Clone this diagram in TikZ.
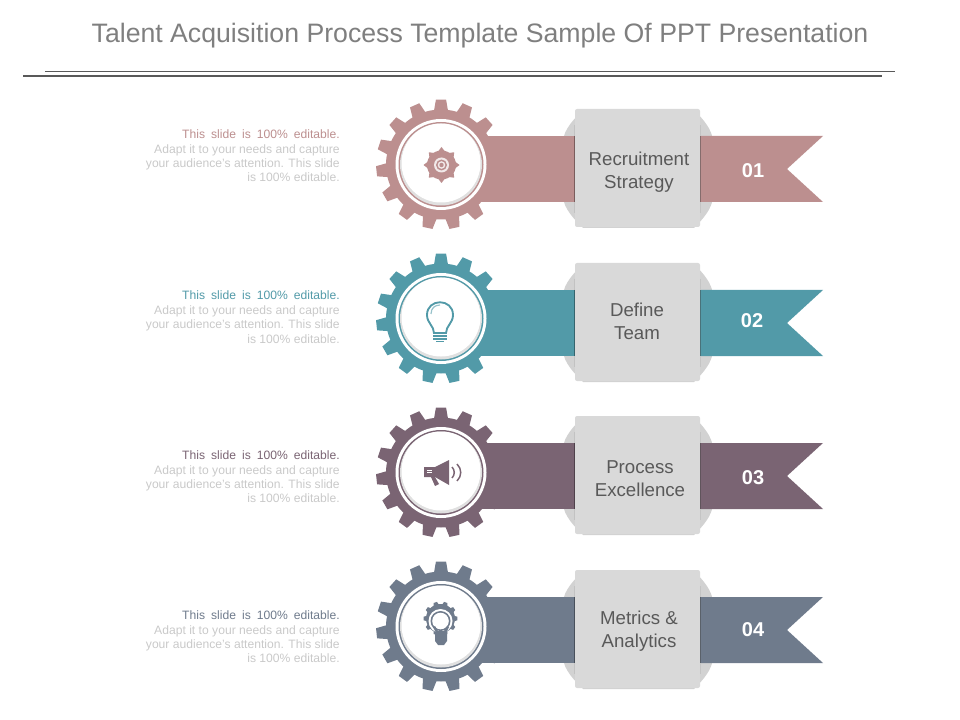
\documentclass[tikz,border=0pt]{standalone}
\usepackage{fontspec}
\setmainfont{Liberation Sans}
\definecolor{rosecol}{HTML}{BC8F8F}
\definecolor{tealcol}{HTML}{529AA8}
\definecolor{plumcol}{HTML}{7A6473}
\definecolor{slatecol}{HTML}{6F7B8C}
\definecolor{titlecol}{HTML}{7F7F7F}
\definecolor{rulecol}{HTML}{595959}
\definecolor{notecol}{HTML}{C9C9C9}
\definecolor{boxcol}{HTML}{D9D9D9}
\definecolor{backcol}{HTML}{D2D2D2}
\definecolor{labelcol}{HTML}{595959}
\newcommand{\wideskip}{\spaceskip=4.5pt\relax}
\tikzset{
    titletext/.style={text=titlecol, font=\fontsize{20pt}{24pt}\selectfont, inner sep=0},
    notetext/.style={anchor=base east, text=notecol, font=\fontsize{9.1pt}{11pt}\selectfont, inner sep=0},
    notehead/.style={anchor=base east, font=\fontsize{9.1pt}{11pt}\selectfont\wideskip, inner sep=0},
    boxtext/.style={anchor=base, text=labelcol, font=\fontsize{14pt}{16pt}\selectfont, inner sep=0},
    numtext/.style={text=white, font=\fontsize{15pt}{18pt}\selectfont\bfseries, inner sep=0},
}
\newcommand{\gearwheel}[2]{
    \begin{scope}[shift={(441,#1)}]
        \fill[#2] (0, 0) circle [radius=55];
        \foreach \a in {270,294,...,606}
            \fill[#2] (\a-7.5:54) -- (\a-4.5:65) -- (\a+4.5:65) -- (\a+7.5:54) -- cycle;
        \fill[white] (0, 0) circle [radius=45.5];
        \fill[#2] (0, 0) circle [radius=42.5];
        \fill[black!12] (0, 0) circle [radius=41];
        \fill[white] (0, -1.5) circle [radius=39.5];
    \end{scope}
}
\newcommand{\ribbon}[2]{
    \begin{scope}[shift={(0,#1)}]
        \fill[backcol] (583, -59) -- (694, -59) .. controls (703, -50) and (712, -40) .. (713, -28)
            -- (713, 28) .. controls (712, 40) and (703, 50) .. (694, 59) -- (583, 59)
            .. controls (574, 50) and (564, 40) .. (563, 28) -- (563, -28)
            .. controls (564, -40) and (574, -50) .. (583, -59) -- cycle;
        \fill[#2] (475, -33) -- (575, -33) -- (575, 33) -- (475, 33) -- cycle;
        \fill[#2] (700, -33) -- (823, -33) -- (787, 0) -- (823, 33) -- (700, 33) -- cycle;
        \draw[black!24, line width=0.75pt] (574.5, -44) -- (574.5, 44);
        \draw[black!24, line width=0.75pt] (700.5, -44) -- (700.5, 44);
        \draw[#2!65!black, line width=0.75pt] (574.5, -33) -- (574.5, 33);
        \draw[#2!65!black, line width=0.75pt] (700.5, -33) -- (700.5, 33);
        \fill[boxcol, rounded corners=1.5pt] (575, -60) -- (700, -60) -- (700, 58) -- (575, 58) -- cycle;
    \end{scope}
}
\begin{document}
\begin{tikzpicture}[x=0.75pt, y=-0.75pt]
    \useasboundingbox (0, 0) rectangle (960, 720);

    \node[titletext] (title) at (480, 35.5) {Talent Acquisition Process Template Sample Of PPT Presentation};
    \coordinate (thinl) at (45, 71.5);
    \coordinate (thinr) at (895, 71.5);
    \coordinate (thickl) at (23, 76);
    \coordinate (thickr) at (882, 76);
    \draw[rulecol, line width=0.6pt] (thinl) -- (thinr);
    \draw[rulecol, line width=1.5pt] (thickl) -- (thickr);

    \ribbon{169}{rosecol}
    \ribbon{323}{tealcol}
    \ribbon{476}{plumcol}
    \ribbon{630}{slatecol}

    \gearwheel{164.5}{rosecol}
    \gearwheel{318.5}{tealcol}
    \gearwheel{472.5}{plumcol}
    \gearwheel{626.5}{slatecol}

    \begin{scope}[shift={(441.5,165)}]
        \fill[rosecol] (0, 0) circle [radius=14.5];
        \foreach \a in {0,45,...,315}
            \fill[rosecol, line join=round] (\a-14:14) -- (\a:18) -- (\a+14:14) -- cycle;
        \fill[white!80!rosecol] (0, 0) circle [radius=7.5];
        \fill[rosecol] (0, 0) circle [radius=5.5];
        \fill[white!80!rosecol] (0, 0) circle [radius=3.8];
        \fill[rosecol] (0, 0) circle [radius=2.2];
    \end{scope}

    \draw[tealcol, line width=1.4pt] (434, 333) .. controls (434, 326) and (427, 323) .. (427, 315)
        .. controls (427, 298) and (453, 298) .. (453, 315)
        .. controls (453, 323) and (446, 326) .. (446, 333) -- cycle;
    \draw[tealcol!60!white, line width=0.9pt] (431, 314) .. controls (431, 308) and (435, 305) .. (440, 305);
    \draw[tealcol, line width=1.3pt] (433, 336) -- (447, 336);
    \draw[tealcol, line width=1.3pt] (433, 338.8) -- (447, 338.8);
    \draw[tealcol, line width=1.3pt] (436, 341.5) -- (444, 341.5);

    \fill[plumcol] (424, 467) -- (435, 467) -- (449, 460) -- (449, 485) -- (435, 477) -- (424, 477) -- cycle;
    \fill[plumcol] (431, 477) -- (435, 477) -- (439, 484) -- (435, 486) -- cycle;
    \fill[white] (427, 469.5) rectangle (432, 470.8);
    \fill[white] (427, 472) rectangle (432, 473.3);
    \draw[plumcol, line width=1.1pt] (452, 467) .. controls (455, 470) and (455, 475) .. (452, 478);
    \draw[plumcol, line width=1.1pt] (457, 464) .. controls (462, 469) and (462, 476) .. (457, 481);

    \begin{scope}[shift={(440.5,618.5)}]
        \fill[slatecol] (0, 0) circle [radius=14.5];
        \foreach \a in {0,36,...,324}
            \fill[slatecol] (\a-11:14) -- (\a-6:17) -- (\a+6:17) -- (\a+11:14) -- cycle;
        \fill[white] (0, 2.5) circle [radius=12];
        \fill[slatecol] (0, 2.5) circle [radius=10];
        \fill[white] (0, 2.5) circle [radius=8.3];
    \end{scope}
    \fill[slatecol] (433, 627) -- (436, 633) -- (446, 633) -- (449, 627) -- (447, 626) -- (444, 631) -- (438, 631) -- (435, 626) -- cycle;
    \fill[slatecol] (435, 632) -- (447, 632) -- (447, 641) -- (444, 645) -- (438, 645) -- (435, 641) -- cycle;

    \node[boxtext] (box1a) at (639, 165.5) {Recruitment};
    \node[boxtext] (box1b) at (639, 188.5) {Strategy};
    \node[boxtext] (box2a) at (637, 316.5) {Define};
    \node[boxtext] (box2b) at (637, 339.5) {Team};
    \node[boxtext] (box3a) at (640, 473.5) {Process};
    \node[boxtext] (box3b) at (640, 496.5) {Excellence};
    \node[boxtext] (box4a) at (639, 624.5) {Metrics \&};
    \node[boxtext] (box4b) at (639, 647.5) {Analytics};

    \node[numtext] (num1) at (753, 171) {01};
    \node[numtext] (num2) at (752, 321) {02};
    \node[numtext] (num3) at (753, 478) {03};
    \node[numtext] (num4) at (753, 630) {04};

    \node[notehead, text=rosecol] (note1a) at (340, 139) {This slide is 100\% editable.};
    \node[notetext] (note1b) at (340, 154) {Adapt it to your needs and capture};
    \node[notetext] (note1c) at (340, 168) {your audience's attention. This slide};
    \node[notetext] (note1d) at (340, 182) {is 100\% editable.};

    \node[notehead, text=tealcol] (note2a) at (340, 300) {This slide is 100\% editable.};
    \node[notetext] (note2b) at (340, 315) {Adapt it to your needs and capture};
    \node[notetext] (note2c) at (340, 329) {your audience's attention. This slide};
    \node[notetext] (note2d) at (340, 343) {is 100\% editable.};

    \node[notehead, text=plumcol] (note3a) at (340, 459) {This slide is 100\% editable.};
    \node[notetext] (note3b) at (340, 474) {Adapt it to your needs and capture};
    \node[notetext] (note3c) at (340, 488) {your audience's attention. This slide};
    \node[notetext] (note3d) at (340, 502) {is 100\% editable.};

    \node[notehead, text=slatecol] (note4a) at (340, 619) {This slide is 100\% editable.};
    \node[notetext] (note4b) at (340, 634) {Adapt it to your needs and capture};
    \node[notetext] (note4c) at (340, 648) {your audience's attention. This slide};
    \node[notetext] (note4d) at (340, 662) {is 100\% editable.};
\end{tikzpicture}
\end{document}
